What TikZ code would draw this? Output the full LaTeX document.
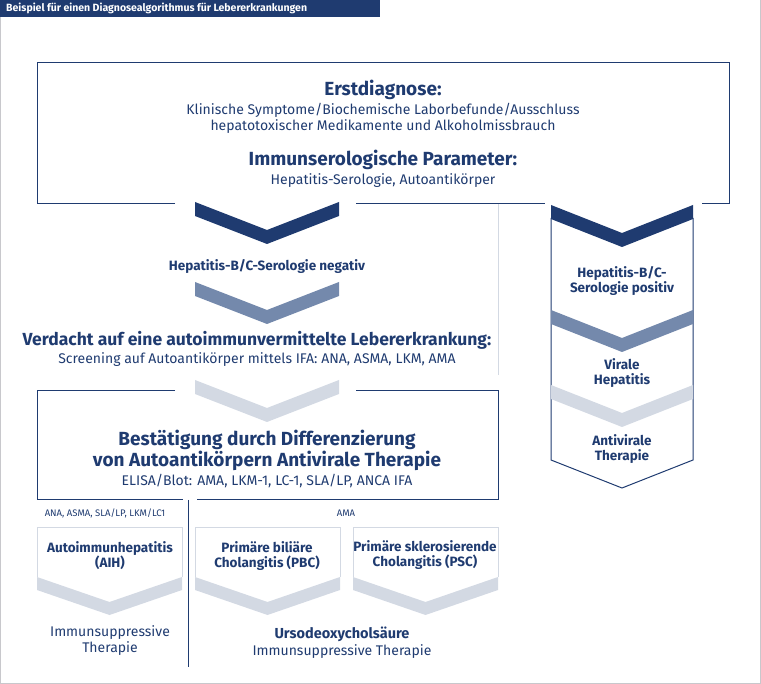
\documentclass[tikz,border=0pt]{standalone}
\usepackage{fontspec}
\setmainfont{Fira Sans}
\usepackage{tikz}
\usetikzlibrary{positioning}

\definecolor{navy}{HTML}{1F3B70}
\definecolor{midblue}{HTML}{7489AC}
\definecolor{paleblue}{HTML}{D3D9E3}
\definecolor{framegray}{HTML}{C8C8CC}

% chevron: x-left, y-top, width, colour
\newcommand{\chevron}[4]{%
  \fill[#4] (#1,#2) -- ++(#3/2,28) -- ++(#3/2,-28) -- ++(0,14) -- ++(-#3/2,28) -- ++(-#3/2,-28) -- cycle;}

\begin{document}
\begin{tikzpicture}[x=1pt,y=-1pt]
    \tikzstyle{head} = [text=navy, font=\bfseries\fontsize{19}{21}\selectfont, align=center, inner sep=0pt]
    \tikzstyle{body} = [text=navy, font=\fontsize{14}{16}\selectfont, align=center, inner sep=0pt]
    \tikzstyle{label} = [text=navy, font=\bfseries\fontsize{13.5}{15}\selectfont, align=center, inner sep=0pt]
    \tikzstyle{tiny} = [text=navy, font=\fontsize{9.5}{11}\selectfont, inner sep=0pt]
    \tikzstyle{frame} = [draw=navy, line width=1pt]
    \tikzstyle{lightframe} = [draw=paleblue, line width=1pt]

    \useasboundingbox (0,0) rectangle (761,684);
    \draw[framegray, line width=1pt] (0,0) rectangle (760.5,683.5);

    % title bar
    \fill[navy] (0,0) rectangle (380,17);
    \node[text=white, font=\bfseries\fontsize{10.5}{12}\selectfont, anchor=west, inner sep=0pt] (title) at (6,8.5) {Beispiel für einen Diagnosealgorithmus für Lebererkrankungen};

    % first box
    \draw[frame] (175,204) -- (37,204) -- (37,63) -- (729,63) -- (729,204) -- (702,204);
    \draw[frame] (356,204) -- (545,204);
    \node[head] (erst) at (383,90) {Erstdiagnose:};
    \node[body, below=3pt of erst] (erstt) {Klinische Symptome/Biochemische Laborbefunde/Ausschluss\\hepatotoxischer Medikamente und Alkoholmissbrauch};
    \node[head] (immun) at (383,160) {Immunserologische Parameter:};
    \node[body, below=3pt of immun] (immunt) {Hepatitis-Serologie, Autoantikörper};

    % left path
    \chevron{195}{202}{144}{navy}
    \node[label] (neg) at (267,266) {Hepatitis-B/C-Serologie negativ};
    \chevron{195}{282}{144}{midblue}
    \node[text=navy, font=\bfseries\fontsize{17.5}{19}\selectfont, inner sep=0pt] (verdacht) at (257,340) {Verdacht auf eine autoimmunvermittelte Lebererkrankung:};
    \node[body, below=3pt of verdacht] (screen) {Screening auf Autoantikörper mittels IFA: ANA, ASMA, LKM, AMA};
    \draw[paleblue, line width=1pt] (498,204) -- (498,375);
    \chevron{195}{380}{144}{paleblue}

    % second box
    \draw[frame] (175,391) -- (37,391) -- (37,500) -- (183,500);
    \draw[frame] (356,391) -- (498,391) -- (498,500) -- (197,500);
    \node[head] (best) at (267,450) {Bestätigung durch Differenzierung\\von Autoantikörpern Antivirale Therapie};
    \node[body, below=3pt of best] (elisa) {ELISA/Blot: AMA, LKM-1, LC-1, SLA/LP, ANCA IFA};
    \draw[frame] (188,500) -- (188,667);
    \node[tiny] (lab1) at (105,513) {ANA, ASMA, SLA/LP, LKM/LC1};
    \node[tiny] (lab2) at (346,513) {AMA};

    % result boxes
    \foreach \bx in {37,195,353} {
        \draw[lightframe] (\bx,577) -- (\bx,528) -- (\bx+145,528) -- (\bx+145,577);
        \fill[paleblue] (\bx,577) -- ++(72.5,25) -- ++(72.5,-25) -- ++(0,13) -- ++(-72.5,25) -- ++(-72.5,-25) -- cycle;
    }
    \node[label] (aih) at (110,556) {Autoimmunhepatitis\\(AIH)};
    \node[label] (pbc) at (267,556) {Primäre biliäre\\Cholangitis (PBC)};
    \node[label] (psc) at (425,555) {Primäre sklerosierende\\Cholangitis (PSC)};
    \node[body] (thaih) at (110,641) {Immunsuppressive\\Therapie};
    \node[text=navy, font=\bfseries\fontsize{14.5}{16}\selectfont, inner sep=0pt] (urso) at (342,634) {Ursodeoxycholsäure};
    \node[body, below=3pt of urso] (thurso) {Immunsuppressive Therapie};

    % right path
    \draw[frame] (551,218) -- (551,460) -- (622,488) -- (693,460) -- (693,218);
    \chevron{551}{205}{142}{navy}
    \node[label] (pos) at (622,281) {Hepatitis-B/C-\\Serologie positiv};
    \chevron{551}{310}{142}{midblue}
    \node[label] (viral) at (622,373) {Virale\\Hepatitis};
    \chevron{551}{385}{142}{paleblue}
    \node[label] (anti) at (622,449) {Antivirale\\Therapie};
\end{tikzpicture}
\end{document}
